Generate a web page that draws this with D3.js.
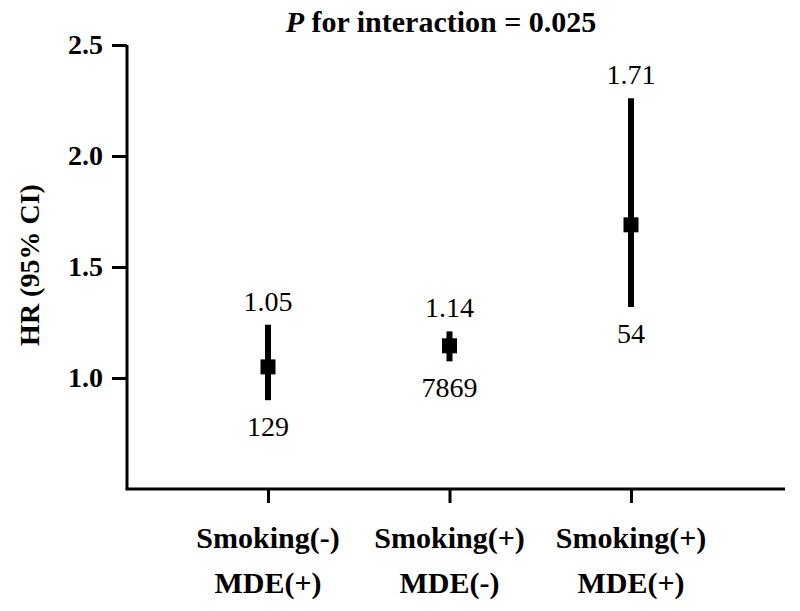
<!DOCTYPE html>
<html lang="en">
  <head>
    <meta charset="utf-8" />
    <title>HR by smoking and MDE</title>
    <style>
      body {
        margin: 0;
        background: #fff;
      }
    </style>
  </head>

  <body>
    <div id="chart"></div>

    <script src="https://cdn.jsdelivr.net/npm/d3@7"></script>
    <script type="text/javascript">
      // Data
      var groupsTop = ['Smoking(-)', 'Smoking(+)', 'Smoking(+)']
      var groupsBottom = ['MDE(+)', 'MDE(-)', 'MDE(+)']
      var hr = [1.05, 1.145, 1.69]
      var hrLabels = ['1.05', '1.14', '1.71']
      var ciLow = [0.9, 1.075, 1.32]
      var ciHigh = [1.24, 1.21, 2.26]
      var counts = ['129', '7869', '54']
      var yTicks = [1.0, 1.5, 2.0, 2.5]

      var width = 800,
        height = 611
      var FONT = 'Liberation Serif'

      var svg = d3.select('#chart').append('svg').attr('width', width).attr('height', height)

      var ids = d3.range(hr.length)

      var x = d3.scalePoint().domain(ids).range([268, 631])
      var y = d3.scaleLinear().domain([0.5, 2.5]).range([489, 45])

      var left = 127,
        right = 785

      // Y axis
      var yAxis = svg
        .append('g')
        .attr('transform', 'translate(' + left + ',0)')
        .call(d3.axisLeft(y).tickValues(yTicks).tickFormat(d3.format('.1f')).tickSize(15).tickSizeOuter(0).tickPadding(9))
      yAxis.select('.domain').attr('stroke-width', 3).attr('d', 'M0,' + y(2.5) + 'V' + y(0.5))
      yAxis.selectAll('.tick line').attr('stroke-width', 3)
      yAxis
        .selectAll('.tick text')
        .attr('font-family', FONT)
        .attr('font-size', 28)
        .attr('font-weight', 'bold')
        .attr('fill', '#000')

      // X axis
      var xAxis = svg
        .append('g')
        .attr('transform', 'translate(0,' + y(0.5) + ')')
        .call(d3.axisBottom(x).tickSize(14).tickSizeOuter(0).tickFormat(''))
      xAxis.select('.domain').attr('stroke-width', 3).attr('d', 'M' + (left - 1.5) + ',0H' + right)
      xAxis.selectAll('.tick line').attr('stroke-width', 3)

      function label(sel) {
        return sel.append('text').attr('font-family', FONT).attr('text-anchor', 'middle')
      }

      ids.forEach(function (d) {
        label(svg).attr('x', x(d)).attr('y', 548).attr('font-size', 30).attr('font-weight', 'bold').text(groupsTop[d])
        label(svg).attr('x', x(d)).attr('y', 593).attr('font-size', 30).attr('font-weight', 'bold').text(groupsBottom[d])
      })

      // Y axis title
      label(svg)
        .attr('transform', 'translate(39,265) rotate(-90)')
        .attr('font-size', 28)
        .attr('font-weight', 'bold')
        .text('HR (95% CI)')

      // Title
      var title = label(svg).attr('x', 441).attr('y', 32).attr('font-size', 30).attr('font-weight', 'bold')
      title.append('tspan').attr('font-style', 'italic').text('P')
      title.append('tspan').text(' for interaction = 0.025')

      // CI lines
      svg
        .selectAll('.ci')
        .data(ids)
        .enter()
        .append('line')
        .attr('x1', (d) => x(d))
        .attr('x2', (d) => x(d))
        .attr('y1', (d) => y(ciLow[d]))
        .attr('y2', (d) => y(ciHigh[d]))
        .attr('stroke', '#000')
        .attr('stroke-width', 6)

      // Point estimates
      var sq = 15
      svg
        .selectAll('.pt')
        .data(ids)
        .enter()
        .append('rect')
        .attr('x', (d) => x(d) - sq / 2)
        .attr('y', (d) => y(hr[d]) - sq / 2)
        .attr('width', sq)
        .attr('height', sq)
        .attr('fill', '#000')

      // Value labels
      ids.forEach(function (d) {
        label(svg).attr('x', x(d)).attr('y', y(ciHigh[d]) - 14).attr('font-size', 28).text(hrLabels[d])
        label(svg).attr('x', x(d)).attr('y', y(ciLow[d]) + 36).attr('font-size', 28).text(counts[d])
      })
    </script>
  </body>
</html>
